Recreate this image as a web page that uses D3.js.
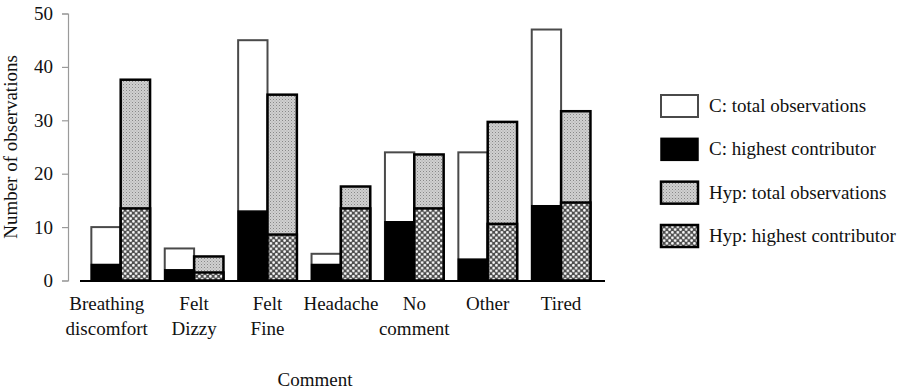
<!DOCTYPE html>
<html>
<head>
<meta charset="utf-8">
<script src="https://cdn.jsdelivr.net/npm/d3@7"></script>
<style>
  html, body { margin: 0; padding: 0; background: #fff; }
  svg { display: block; }
  text { font-family: "Liberation Serif", "Times New Roman", serif; fill: #111; }
</style>
</head>
<body>
<svg id="chart" width="903" height="389"></svg>
<script>
// Comment categories and observation counts per group
const categories = ["Breathing discomfort", "Felt Dizzy", "Felt Fine", "Headache", "No comment", "Other", "Tired"];
const cTotal     = [10, 6, 45, 5, 24, 24, 47];
const cHighest   = [3, 2, 13, 3, 11, 4, 14];
const hypTotal   = [37.6, 4.5, 34.8, 17.6, 23.6, 29.7, 31.7];
const hypHighest = [13.5, 1.5, 8.6, 13.5, 13.5, 10.6, 14.6];
const yTicks     = [0, 10, 20, 30, 40, 50];
const legendLabels = ["C: total observations", "C: highest contributor", "Hyp: total observations", "Hyp: highest contributor"];

const svg = d3.select("#chart");
const fontSize = 19;

// Fill patterns for the Hyp series
const defs = svg.append("defs");
const stip = defs.append("pattern").attr("id", "stipple")
  .attr("patternUnits", "userSpaceOnUse").attr("width", 3).attr("height", 3);
stip.append("rect").attr("width", 3).attr("height", 3).attr("fill", "#d0d0d0");
stip.append("rect").attr("x", 0).attr("y", 0).attr("width", 1).attr("height", 1).attr("fill", "#888");
stip.append("rect").attr("x", 1.5).attr("y", 1.5).attr("width", 1).attr("height", 1).attr("fill", "#a5a5a5");

const check = defs.append("pattern").attr("id", "checker")
  .attr("patternUnits", "userSpaceOnUse").attr("width", 5.5).attr("height", 5.5);
check.append("rect").attr("width", 5.5).attr("height", 5.5).attr("fill", "#4e4e4e");
check.append("circle").attr("cx", 1.375).attr("cy", 1.375).attr("r", 1.35).attr("fill", "#fff");
check.append("circle").attr("cx", 4.125).attr("cy", 4.125).attr("r", 1.35).attr("fill", "#fff");

// Scales
const y = d3.scaleLinear().domain([0, 50]).range([280.5, 13.5]);
const x = d3.scaleBand().domain(categories).range([84, 597.8]).paddingInner(0).paddingOuter(0);
const bw = x.bandwidth() * 0.4;
const cx = c => x(c) + x.bandwidth() / 2;

// Y axis (thin grey line with outward ticks)
const yAxis = svg.append("g").attr("transform", "translate(68,0)")
  .call(d3.axisLeft(y).tickValues(yTicks).tickSize(6).tickPadding(9).tickFormat(d3.format("d")));
yAxis.select(".domain").attr("stroke", "#9a9a9a").attr("stroke-width", 1.2);
yAxis.selectAll(".tick line").attr("stroke", "#9a9a9a").attr("stroke-width", 1.2);
yAxis.selectAll(".tick text").attr("font-size", fontSize).attr("font-family", "Liberation Serif, Times New Roman, serif").attr("fill", "#111");

svg.append("text")
  .attr("transform", `translate(17,${(y(0) + y(50)) / 2}) rotate(-90)`)
  .attr("text-anchor", "middle").attr("font-size", fontSize)
  .text("Number of observations");

const rows = categories.map((c, i) => ({ c, i }));

// C bars: total (white) with highest contributor (black) over it
const gC = svg.append("g");
gC.selectAll("rect.ct").data(rows).join("rect").attr("class", "ct")
  .attr("x", d => cx(d.c) - bw).attr("width", bw)
  .attr("y", d => y(cTotal[d.i])).attr("height", d => y(0) - y(cTotal[d.i]))
  .attr("fill", "#fff").attr("stroke", "#4a4a4a").attr("stroke-width", 2);
gC.selectAll("rect.ch").data(rows).join("rect").attr("class", "ch")
  .attr("x", d => cx(d.c) - bw).attr("width", bw)
  .attr("y", d => y(cHighest[d.i])).attr("height", d => y(0) - y(cHighest[d.i]))
  .attr("fill", "#000").attr("stroke", "#000").attr("stroke-width", 1.5);

// Hyp bars: total (stipple) with highest contributor (checker) over it
const gH = svg.append("g");
gH.selectAll("rect.ht").data(rows).join("rect").attr("class", "ht")
  .attr("x", d => cx(d.c)).attr("width", bw)
  .attr("y", d => y(hypTotal[d.i])).attr("height", d => y(0) - y(hypTotal[d.i]))
  .attr("fill", "url(#stipple)").attr("stroke", "#000").attr("stroke-width", 2.5);
gH.selectAll("rect.hh").data(rows).join("rect").attr("class", "hh")
  .attr("x", d => cx(d.c)).attr("width", bw)
  .attr("y", d => y(hypHighest[d.i])).attr("height", d => y(0) - y(hypHighest[d.i]))
  .attr("fill", "url(#checker)").attr("stroke", "#000").attr("stroke-width", 2.5);

// Baseline
svg.append("line").attr("x1", 80).attr("x2", 605).attr("y1", y(0) + 0.5).attr("y2", y(0) + 0.5)
  .attr("stroke", "#000").attr("stroke-width", 2.2);

// Category labels, wrapped onto two lines
const xl = svg.append("g");
rows.forEach(d => {
  const words = d.c.split(" ");
  const lx = cx(d.c) - (d.i === 0 ? 14 : 0);
  const t = xl.append("text").attr("text-anchor", "middle").attr("font-size", fontSize)
    .attr("x", lx).attr("y", 310);
  words.forEach((w, k) => {
    t.append("tspan").attr("x", lx).attr("dy", k === 0 ? 0 : 25).text(w);
  });
});

svg.append("text").attr("x", 315).attr("y", 386).attr("text-anchor", "middle")
  .attr("font-size", fontSize).text("Comment");

// Legend
const legendStyles = [
  { fill: "#fff", stroke: "#4a4a4a", sw: 2 },
  { fill: "#000", stroke: "#000", sw: 1.5 },
  { fill: "url(#stipple)", stroke: "#000", sw: 2.5 },
  { fill: "url(#checker)", stroke: "#000", sw: 2.5 }
];
const ly = d3.scalePoint().domain(legendLabels).range([106, 236]);
const lg = svg.append("g");
legendLabels.forEach((lab, i) => {
  const s = legendStyles[i];
  lg.append("rect").attr("x", 661).attr("y", ly(lab) - 11).attr("width", 37).attr("height", 22)
    .attr("fill", s.fill).attr("stroke", s.stroke).attr("stroke-width", s.sw);
  lg.append("text").attr("x", 709).attr("y", ly(lab) + 6).attr("font-size", fontSize).text(lab);
});
</script>
</body>
</html>
